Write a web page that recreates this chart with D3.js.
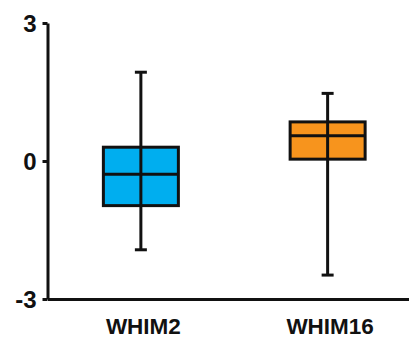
<!DOCTYPE html>
<html>
<head>
<meta charset="utf-8">
<script src="https://cdn.jsdelivr.net/npm/d3@7"></script>
<style>
  html, body { margin: 0; padding: 0; background: #fff; }
  svg { display: block; }
  text { font-family: "Liberation Sans", Arial, sans-serif; font-weight: bold; fill: #111; }
</style>
</head>
<body>
<svg id="chart" width="409" height="339"></svg>
<script>
// Data
const categories = ["WHIM2", "WHIM16"];
const minValues    = [-1.93, -2.48];
const q1Values     = [-0.97, 0.04];
const medianValues = [-0.29, 0.55];
const q3Values     = [0.30, 0.85];
const maxValues    = [1.93, 1.47];
const boxColors    = ["#00AEEF", "#F7941D"];
const yTicks       = [-3, 0, 3];
const yTickLabels  = ["-3", "0", "3"];

const svg = d3.select("#chart");
const x = d3.scalePoint().domain(categories).range([47.5, 421]).padding(0.5);
const y = d3.scaleLinear().domain([-3, 3]).range([299, 23]);

const boxW = 75, capW = 12, sw = 3;

// Axes
const yAxis = svg.append("g").attr("transform", "translate(47.5,0)")
  .call(d3.axisLeft(y).tickValues(yTicks).tickSize(5).tickSizeOuter(0)
    .tickFormat((d, i) => yTickLabels[i]));
yAxis.select(".domain").attr("stroke", "#111").attr("stroke-width", sw);
yAxis.selectAll(".tick line").attr("stroke", "#111").attr("stroke-width", sw);
yAxis.selectAll(".tick text").attr("x", -11).attr("dy", "0.36em")
  .style("font-size", "24px").style("font-family", "'Liberation Sans', Arial, sans-serif")
  .style("font-weight", "bold").attr("fill", "#111");

const xAxis = svg.append("g").attr("transform", "translate(0,299)")
  .call(d3.axisBottom(x).tickSize(0).tickSizeOuter(0));
xAxis.select(".domain").attr("stroke", "#111").attr("stroke-width", sw);
xAxis.selectAll(".tick text").attr("y", 19).attr("dy", "0.71em")
  .style("font-size", "22.5px").style("font-family", "'Liberation Sans', Arial, sans-serif")
  .style("font-weight", "bold").attr("fill", "#111")
  .attr("dx", 2);

// Boxes
const data = categories.map((c, i) => ({
  c, min: minValues[i], q1: q1Values[i], med: medianValues[i], q3: q3Values[i], max: maxValues[i], color: boxColors[i]
}));

const g = svg.append("g").selectAll("g").data(data).join("g");

g.append("rect")
  .attr("x", d => x(d.c) - boxW / 2)
  .attr("y", d => y(d.q3))
  .attr("width", boxW)
  .attr("height", d => y(d.q1) - y(d.q3))
  .attr("fill", d => d.color)
  .attr("stroke", "#111")
  .attr("stroke-width", sw);

g.append("line")
  .attr("x1", d => x(d.c)).attr("x2", d => x(d.c))
  .attr("y1", d => y(d.max)).attr("y2", d => y(d.min))
  .attr("stroke", "#111").attr("stroke-width", sw);

g.append("line")
  .attr("x1", d => x(d.c) - boxW / 2).attr("x2", d => x(d.c) + boxW / 2)
  .attr("y1", d => y(d.med)).attr("y2", d => y(d.med))
  .attr("stroke", "#111").attr("stroke-width", sw);

g.append("line")
  .attr("x1", d => x(d.c) - capW / 2).attr("x2", d => x(d.c) + capW / 2)
  .attr("y1", d => y(d.max)).attr("y2", d => y(d.max))
  .attr("stroke", "#111").attr("stroke-width", sw);

g.append("line")
  .attr("x1", d => x(d.c) - capW / 2).attr("x2", d => x(d.c) + capW / 2)
  .attr("y1", d => y(d.min)).attr("y2", d => y(d.min))
  .attr("stroke", "#111").attr("stroke-width", sw);
</script>
</body>
</html>
